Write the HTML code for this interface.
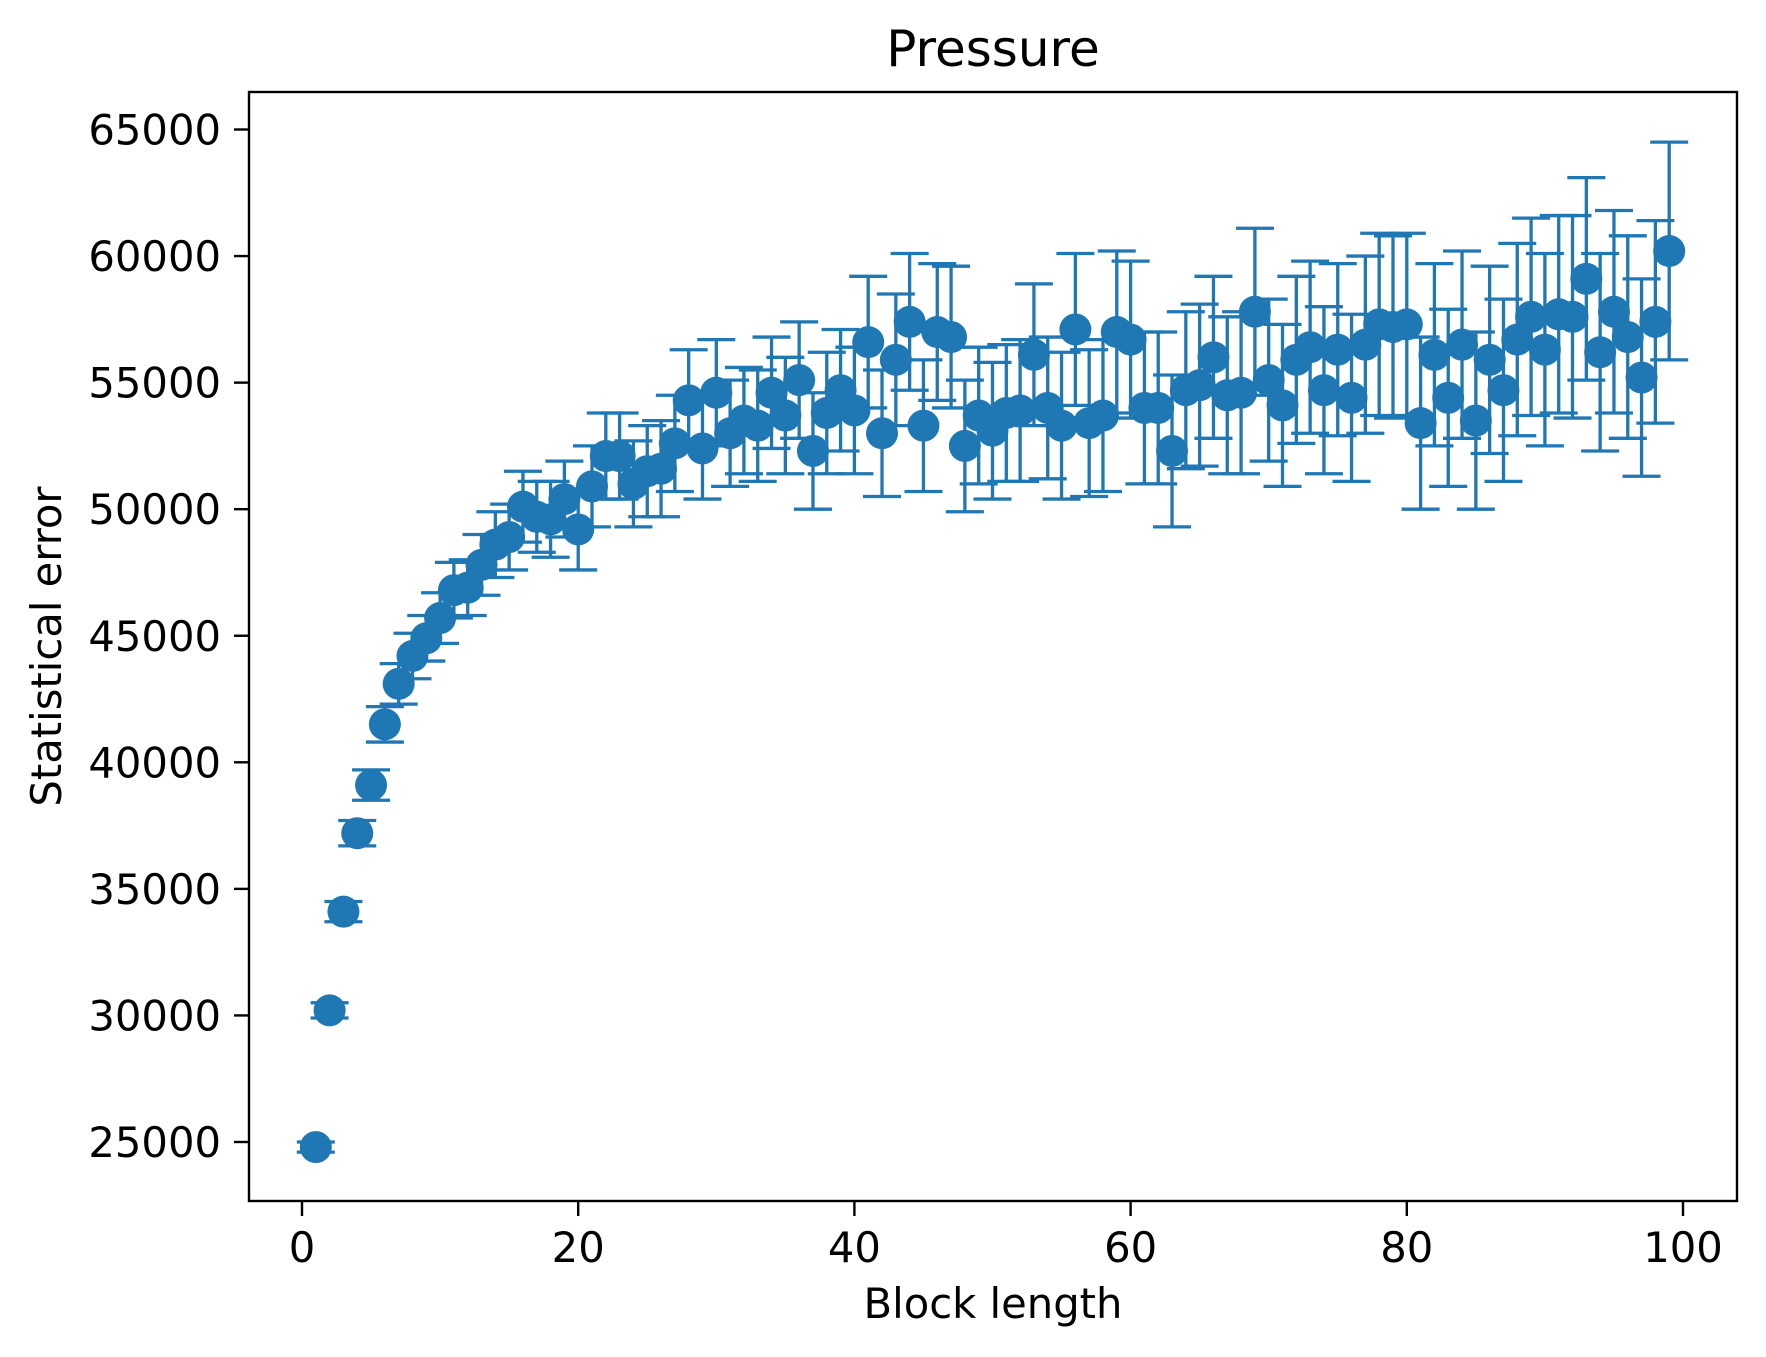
<!DOCTYPE html>
<html><head><meta charset="utf-8"><style>
html,body{margin:0;padding:0;background:#fff;}
svg{display:block;font-family:"DejaVu Sans","Liberation Sans",sans-serif;}
</style></head><body>
<svg id="chart" width="1766" height="1357" viewBox="0 0 1766 1357" xmlns="http://www.w3.org/2000/svg">
<rect width="1766" height="1357" fill="#fff"/>
<g id="marks"></g>
<g id="axes"></g>
</svg>
<script>
const blockLengths = Array.from({length:99},(_,i)=>i+1);
const errValues = [24800,30200,34100,37200,39100,41500,43100,44200,44900,45700,46800,46900,47800,48600,48900,50100,49700,49600,50400,49200,50900,52100,52100,51000,51500,51600,52600,54300,52400,54600,53000,53500,53300,54600,53700,55100,52300,53800,54700,53900,56600,53000,55900,57400,53300,57000,56800,52500,53700,53100,53800,53900,56100,54000,53300,57100,53400,53700,57000,56700,54000,54000,52300,54700,54900,56000,54500,54600,57800,55100,54100,55900,56400,54700,56300,54400,56500,57300,57200,57300,53400,56100,54400,56500,53500,55900,54700,56700,57600,56300,57700,57600,59100,56200,57800,56800,55200,57400,60200];
const errBars = [200,300,400,500,600,700,800,900,900,1000,1100,1100,1200,1300,1300,1400,1400,1500,1500,1600,1600,1700,1700,1700,1800,1900,1900,2000,2000,2100,2100,2100,2200,2200,2300,2300,2300,2400,2400,2500,2600,2500,2600,2700,2600,2700,2800,2600,2700,2700,2700,2800,2800,2800,2900,3000,2900,3000,3200,3100,3000,3000,3000,3100,3200,3200,3100,3200,3300,3200,3200,3300,3400,3300,3400,3300,3500,3600,3600,3600,3400,3600,3500,3700,3500,3700,3600,3800,3900,3800,3900,4000,4000,3900,4000,4000,3900,4000,4300];
const xTicks = [0,20,40,60,80,100];
const yTicks = [25000,30000,35000,40000,45000,50000,55000,60000,65000];

const L=249,R=1737,T=92,B=1201;
const xs=v=>302+(v-0)*(1683-302)/100;
const ys=v=>1142-(v-25000)*(1142-129.5)/40000;
const NS="http://www.w3.org/2000/svg";
function mk(tag,attrs,parent){const e=document.createElementNS(NS,tag);for(const k in attrs)e.setAttribute(k,attrs[k]);parent.appendChild(e);return e;}
const marks=document.getElementById('marks'), axes=document.getElementById('axes');
const C="#1f77b4";
blockLengths.forEach((b,i)=>{
  const x=xs(b), y1=ys(errValues[i]-errBars[i]), y2=ys(errValues[i]+errBars[i]);
  const g=mk('g',{},marks);
  
  
  mk('line',{x1:x,x2:x,y1:y1,y2:y2,stroke:C,'stroke-width':3.3},g);
  mk('line',{x1:x-19,x2:x+19,y1:y1,y2:y1,stroke:C,'stroke-width':3.3},g);
  mk('line',{x1:x-19,x2:x+19,y1:y2,y2:y2,stroke:C,'stroke-width':3.3},g);
});
blockLengths.forEach((b,i)=>{
  const c=mk('circle',{cx:xs(b),cy:ys(errValues[i]),r:16,fill:C},marks);
  
  
});
const frame=mk('rect',{x:L,y:T,width:R-L,height:B-T,fill:'none',stroke:'#000','stroke-width':2.4},axes);


xTicks.forEach(v=>{
  const x=xs(v);
  mk('line',{x1:x,x2:x,y1:B,y2:B+15,stroke:'#000','stroke-width':2.4},axes);
  const t=mk('text',{x:x,y:B+61,'text-anchor':'middle','font-size':41.7},axes);
  t.textContent=v;
  
  
});
yTicks.forEach(v=>{
  const y=ys(v);
  mk('line',{x1:L-15,x2:L,y1:y,y2:y,stroke:'#000','stroke-width':2.4},axes);
  const t=mk('text',{x:L-28,y:y+15,'text-anchor':'end','font-size':41.7},axes);
  t.textContent=v;
  
  
});
const title=mk('text',{x:(L+R)/2,y:66,'text-anchor':'middle','font-size':50},axes);
title.textContent='Pressure';


const xl=mk('text',{x:(L+R)/2,y:1318,'text-anchor':'middle','font-size':41.7},axes);
xl.textContent='Block length';


const yl=mk('text',{x:0,y:0,'text-anchor':'middle','font-size':41.7,transform:`translate(61,${(T+B)/2}) rotate(-90)`},axes);
yl.textContent='Statistical error';


</script>
</body></html>
